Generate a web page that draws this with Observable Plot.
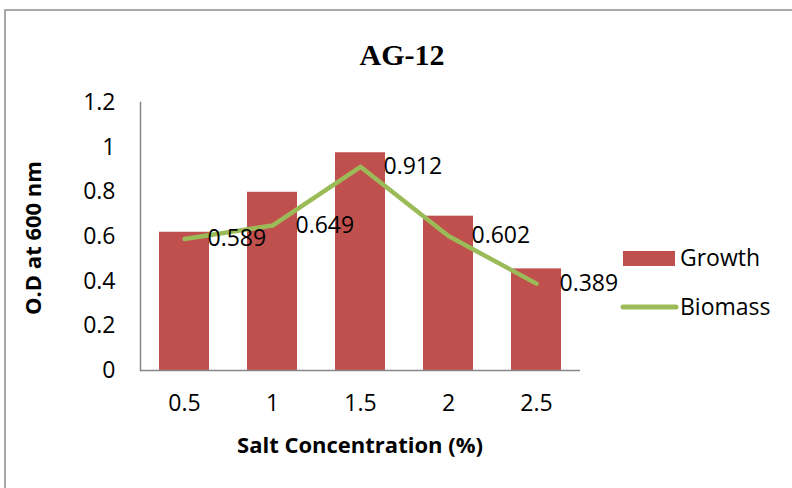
<!DOCTYPE html>
<html>
<head>
<meta charset="utf-8">
<script src="https://cdn.jsdelivr.net/npm/d3@7"></script>
<script src="https://cdn.jsdelivr.net/npm/@observablehq/plot@0.6"></script>
<style>
  html, body { margin: 0; padding: 0; background: #fff; }
  #chart { width: 792px; height: 488px; }
</style>
</head>
<body>
<div id="chart"></div>
<script>
// Salt concentration (%) categories
const concentrations = ["0.5", "1", "1.5", "2", "2.5"];
// Growth (bars, O.D at 600 nm)
const growth = [0.619, 0.798, 0.975, 0.691, 0.455];
// Biomass (line, labelled values)
const biomass = [0.589, 0.649, 0.912, 0.602, 0.389];
// Y axis ticks
const yTicks = [0, 0.2, 0.4, 0.6, 0.8, 1, 1.2];

const rows = concentrations.map((c, i) => ({conc: c, growth: growth[i], biomass: biomass[i]}));

const font = "'Open Sans', sans-serif";
const red = "#c0504d";
const green = "#9bbb59";
const grey = "#868686";

const chart = Plot.plot({
  width: 792,
  height: 488,
  marginLeft: 140,
  marginRight: 212,
  marginTop: 102,
  marginBottom: 118,
  style: {fontFamily: font, fontSize: "23px", color: "#000", background: "#fff", overflow: "visible"},
  x: {domain: concentrations, paddingInner: 0.432, paddingOuter: 0.216},
  y: {domain: [0, 1.2]},
  marks: [
    Plot.barY(rows, {x: "conc", y: "growth", fill: red}),
    Plot.frame({anchor: "left", stroke: grey, strokeWidth: 1.5}),
    Plot.ruleY([0], {stroke: grey, strokeWidth: 1.5}),
    Plot.axisY({ticks: yTicks, tickSize: 0, tickPadding: 25, label: null,
      tickFormat: d => String(+d.toFixed(1)), fontSize: 23}),
    Plot.axisX({tickSize: 0, tickPadding: 24, label: null, fontSize: 23}),
    Plot.line(rows, {x: "conc", y: "biomass", stroke: green, strokeWidth: 4.5,
      strokeLinejoin: "round", strokeLinecap: "round"}),
    Plot.text(rows, {x: "conc", y: "biomass", text: d => d.biomass.toFixed(3),
      textAnchor: "start", dx: 23, fontSize: 23, fill: "#000"})
  ]
});

const svg = d3.select(chart);

// outer chart border
svg.insert("rect", ":first-child")
  .attr("x", 5).attr("y", 10).attr("width", 800).attr("height", 500)
  .attr("fill", "#fff").attr("stroke", "#8c8c8c").attr("stroke-width", 1.5);

// title
svg.append("text")
  .attr("x", 402).attr("y", 65)
  .attr("text-anchor", "middle")
  .attr("font-family", "'Liberation Serif', 'Times New Roman', serif")
  .attr("font-weight", "bold").attr("font-size", 30)
  .attr("fill", "#000")
  .text("AG-12");

// axis titles
svg.append("text")
  .attr("x", 360).attr("y", 453)
  .attr("text-anchor", "middle")
  .attr("font-family", font).attr("font-weight", "bold").attr("font-size", 22)
  .attr("fill", "#000")
  .text("Salt Concentration (%)");

svg.append("text")
  .attr("transform", "translate(41,238) rotate(-90)")
  .attr("text-anchor", "middle")
  .attr("font-family", font).attr("font-weight", "bold").attr("font-size", 22)
  .attr("fill", "#000")
  .text("O.D at 600 nm");

// legend
const legend = svg.append("g").attr("font-family", font).attr("font-size", 23)
  .attr("fill", "#000").attr("text-anchor", "start");
legend.append("rect").attr("x", 623).attr("y", 251).attr("width", 52).attr("height", 15).attr("fill", red);
legend.append("text").attr("x", 680).attr("y", 258).attr("dy", "0.35em").text("Growth");
legend.append("line").attr("x1", 623).attr("x2", 676).attr("y1", 307).attr("y2", 307)
  .attr("stroke", green).attr("stroke-width", 5).attr("stroke-linecap", "round");
legend.append("text").attr("x", 680).attr("y", 307).attr("dy", "0.35em").text("Biomass");

document.getElementById("chart").appendChild(chart);
</script>
</body>
</html>
